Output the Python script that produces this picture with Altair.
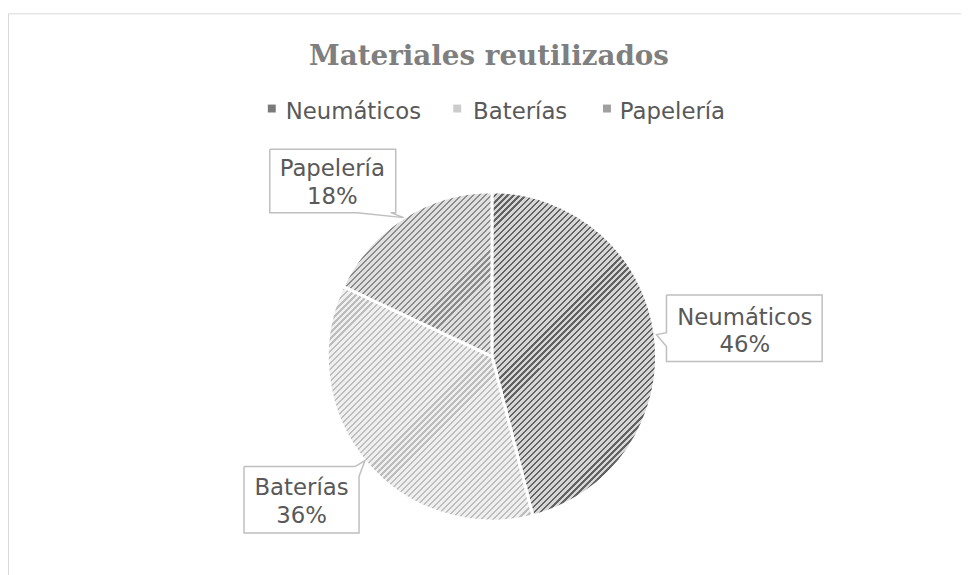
import math
import altair as alt
import pandas as pd

# ---- data ----
categories = ["Neumáticos", "Baterías", "Papelería"]
values = [46, 36, 18]

# ---- styles / layout (not data) ----
W, H = 961, 567
CX, CY, R = 488, 349, 166
TEXT = "#595959"
stripe_dark = {"Neumáticos": "#626262", "Baterías": "#bdbdbd", "Papelería": "#8a8a8a"}
stripe_light = {"Neumáticos": "#d6d6d6", "Baterías": "#efefef", "Papelería": "#e0e0e0"}
legend_fill = {"Neumáticos": "#7a7a7a", "Baterías": "#cccccc", "Papelería": "#a0a0a0"}
legend_sq_x = [266, 453, 604]
legend_tx_x = [280, 469, 617]
label_pos = {"Neumáticos": (743, 317), "Baterías": (296, 489), "Papelería": (327, 167)}
callouts = {
    "Papelería": [(264, 140), (391, 140), (391, 204), (386, 204), (399, 209), (352, 204), (264, 204), (264, 140)],
    "Neumáticos": [(664, 287), (821, 287), (821, 354), (664, 354), (664, 339), (654, 327), (664, 325), (664, 287)],
    "Baterías": [(238, 460), (350, 460), (360, 454), (354, 470), (354, 527), (238, 527), (238, 460)],
}

total = sum(values)
df = pd.DataFrame({"cat": categories, "value": values, "idx": list(range(len(categories)))})
df["label"] = [f"{c}\n{round(v / total * 100)}%" for c, v in zip(categories, values)]


def slice_bbox(a0, a1):
    pts = [(0.0, 0.0)]
    angs = [a0, a1] + [k * math.pi / 2 for k in range(5) if a0 < k * math.pi / 2 < a1]
    for a in angs:
        pts.append((R * math.sin(a), -R * math.cos(a)))
    xs = [p[0] for p in pts]
    ys = [p[1] for p in pts]
    return max(xs) - min(xs), max(ys) - min(ys)


def hatch(w, h, dark, light, period=4.3, frac=0.36):
    m = max(w, h)
    a, b = w / m, h / m
    s = (a + b) / (a * a + b * b)
    L = (w + h) / math.sqrt(2)
    n = max(1, int(round(L / period)))
    stops = []
    for i in range(n):
        t0 = i / n
        tm = (i + frac) / n
        t1 = (i + 1) / n
        stops += [
            {"offset": t0, "color": dark},
            {"offset": tm, "color": dark},
            {"offset": tm, "color": light},
            {"offset": t1, "color": light},
        ]
    return {"gradient": "linear", "x1": 0, "y1": 0, "x2": s * a, "y2": s * b, "stops": stops}


# ---- pie slices (one layer per slice so each gets its own hatch) ----
layers = []
cum = 0
for c, v in zip(categories, values):
    a0 = cum / total * 2 * math.pi
    a1 = (cum + v) / total * 2 * math.pi
    cum += v
    bw, bh = slice_bbox(a0, a1)
    g = hatch(bw, bh, stripe_dark[c], stripe_light[c])
    layer = (
        alt.Chart(df)
        .transform_stack(stack="value", groupby=[], as_=["v0", "v1"], sort=[alt.SortField("idx", order="ascending")])
        .transform_filter(alt.datum.cat == c)
        .mark_arc(outerRadius=R, stroke="white", strokeWidth=3, fill=g)
        .encode(
            theta=alt.Theta("v0:Q", scale=alt.Scale(domain=[0, total]), stack=None),
            theta2="v1:Q",
            x=alt.value(CX),
            y=alt.value(CY),
        )
    )
    layers.append(layer)

# ---- callout outlines ----
cl_rows = []
for c, pts in callouts.items():
    for i, (x, y) in enumerate(pts):
        cl_rows.append({"cat": c, "i": i, "x": x, "y": y})
cl_df = pd.DataFrame(cl_rows)
callout_lines = (
    alt.Chart(cl_df)
    .mark_line(color="#bfbfbf", strokeWidth=1.5)
    .encode(
        x=alt.X("x:Q", scale=None, axis=None),
        y=alt.Y("y:Q", scale=None, axis=None),
        detail="cat:N",
        order="i:Q",
    )
)

lab_df = df.copy()
lab_df["lx"] = [label_pos[c][0] for c in categories]
lab_df["ly"] = [label_pos[c][1] for c in categories]
labels = (
    alt.Chart(lab_df)
    .mark_text(font="DejaVu Sans", fontSize=23, color=TEXT, align="center", baseline="alphabetic",
               lineBreak="\n", lineHeight=28)
    .encode(x=alt.X("lx:Q", scale=None, axis=None), y=alt.Y("ly:Q", scale=None, axis=None), text="label:N")
)

# ---- legend ----
leg_df = pd.DataFrame({"cat": categories, "sx": legend_sq_x, "tx": legend_tx_x})
leg_sq = (
    alt.Chart(leg_df)
    .mark_square(size=64, opacity=1)
    .encode(
        x=alt.X("sx:Q", scale=None, axis=None),
        y=alt.value(99),
        fill=alt.Fill("cat:N", scale=alt.Scale(domain=categories, range=[legend_fill[c] for c in categories]), legend=None),
    )
)
leg_tx = (
    alt.Chart(leg_df)
    .mark_text(font="DejaVu Sans", fontSize=23, color=TEXT, align="left", baseline="alphabetic")
    .encode(x=alt.X("tx:Q", scale=None, axis=None), y=alt.value(110), text="cat:N")
)

# ---- title ----
title = (
    alt.Chart(pd.DataFrame({"t": ["Materiales reutilizados"]}))
    .mark_text(font="DejaVu Serif", fontSize=28, fontWeight="bold", color="#7f7f7f", align="center", baseline="alphabetic")
    .encode(x=alt.value(485), y=alt.value(55), text="t:N")
)

# ---- frame ----
frame = (
    alt.Chart(pd.DataFrame({"a": [0]}))
    .mark_rect(fill=None, stroke="#d9d9d9", strokeWidth=1)
    .encode(x=alt.value(0.5), x2=alt.value(1000), y=alt.value(3.5), y2=alt.value(700))
)

chart = (
    alt.layer(frame, *layers, callout_lines, labels, leg_sq, leg_tx, title)
    .properties(width=W, height=H, padding=0, autosize=alt.AutoSizeParams(type="none"))
    .configure_view(stroke=None)
    .resolve_scale(theta="shared")
)

chart.save("out.html", embed_options={"renderer": "svg", "actions": False})
